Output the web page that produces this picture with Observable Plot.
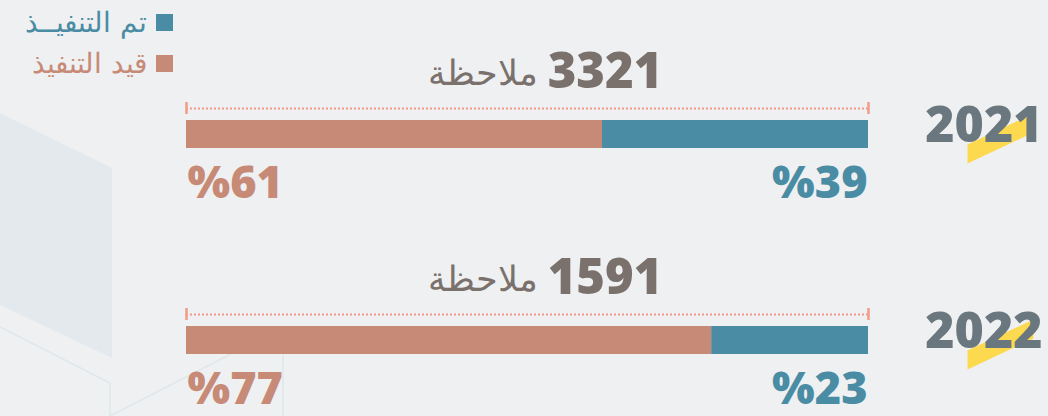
<!DOCTYPE html>
<html>
<head>
<meta charset="utf-8">
<script src="https://cdn.jsdelivr.net/npm/d3@7"></script>
<script src="https://cdn.jsdelivr.net/npm/@observablehq/plot@0.6"></script>
<style>
  html, body { margin: 0; padding: 0; background: #eef0f2; }
  #wrap { position: relative; width: 1048px; height: 416px; overflow: hidden; background: #eef0f2; }
  #deco, #chart { position: absolute; left: 0; top: 0; }
  #legend { position: absolute; right: calc(1048px - 173px); top: 2px; font-family: "DejaVu Sans", sans-serif; font-size: 28px; font-weight: 300; }
  .item { display: flex; align-items: center; justify-content: flex-end; height: 41px; }
  .sw { width: 17px; height: 17px; margin-left: 9px; display: inline-block; }
</style>
</head>
<body>
<div id="wrap">
  <svg id="deco" width="1048" height="416">
    <polygon points="0,113 112,168 112,358 0,305" fill="#e4e9ee"/>
    <polyline points="0,327 110,383 110,416" fill="none" stroke="#e0e7ea" stroke-width="1.5"/>
    <polyline points="110,416 233,353 283,353 283,416" fill="none" stroke="#e0e7ea" stroke-width="1.5"/>
  </svg>
  <div id="chart"></div>
  <div id="legend"></div>
</div>
<script>
const years = ["2021", "2022"];
const totals = [3321, 1591];
const statuses = ["تم التنفيذ", "قيد التنفيذ"];
const legendLabels = ["تم التنفيــذ", "قيد التنفيذ"];
const donePct = [39, 23];
const pendingPct = [61, 77];
const noteWord = "ملاحظة";
const colors = ["#4a8ca4", "#c78a77"];

const rows = [];
years.forEach((y, i) => {
  rows.push({year: y, status: statuses[0], value: donePct[i]});
  rows.push({year: y, status: statuses[1], value: pendingPct[i]});
});
const yearRows = years.map((y, i) => ({year: y, total: totals[i], done: donePct[i], pending: pendingPct[i]}));

const parallelogram = {
  draw(ctx) {
    ctx.moveTo(-33, 6);
    ctx.lineTo(33, -25);
    ctx.lineTo(33, -6);
    ctx.lineTo(-33, 25);
    ctx.closePath();
  }
};

const numFont = "'Open Sans', sans-serif";
const arFont = "'DejaVu Sans', sans-serif";

const plot = Plot.plot({
  width: 1048,
  height: 416,
  marginLeft: 186,
  marginRight: 180,
  marginTop: 0,
  marginBottom: 0,
  style: {background: "transparent", overflow: "visible"},
  x: {domain: [0, 100], range: [868, 186], axis: null},
  y: {type: "band", domain: years, range: [31, 443], padding: 0, axis: null},
  color: {domain: statuses, range: colors},
  marks: [
    Plot.barX(rows, Plot.stackX({x: "value", y: "year", fill: "status", insetTop: 89, insetBottom: 89})),
    Plot.ruleY(yearRows, {y: "year", x1: 0, x2: 100, dy: -26, stroke: "#f39a87", strokeWidth: 2, strokeDasharray: "2,2"}),
    Plot.tickX(yearRows, {x: 0, y: "year", insetTop: 72, insetBottom: 122, dy: -1, stroke: "#f59a88", strokeWidth: 2.5}),
    Plot.tickX(yearRows, {x: 100, y: "year", insetTop: 72, insetBottom: 122, dy: -1, stroke: "#f59a88", strokeWidth: 2.5}),
    Plot.text(yearRows, {x: 50, y: "year", text: d => String(d.total), textAnchor: "end", dx: 135, dy: -62, lineAnchor: "middle", fontFamily: numFont, fontWeight: 800, fontSize: 49, fill: "#7b716c"}),
    Plot.text(yearRows, {x: 50, y: "year", text: () => noteWord, textAnchor: "end", dx: 10, dy: -61, lineAnchor: "middle", fontFamily: arFont, fontWeight: 300, fontSize: 35, fill: "#7b716c"}),
    Plot.text(yearRows, {x: 100, y: "year", text: d => "%" + d.pending, textAnchor: "start", dx: 1, dy: 49, lineAnchor: "middle", fontFamily: numFont, fontWeight: 800, fontSize: 45, fill: colors[1]}),
    Plot.text(yearRows, {x: 0, y: "year", text: d => "%" + d.done, textAnchor: "end", dx: -1, dy: 49, lineAnchor: "middle", fontFamily: numFont, fontWeight: 800, fontSize: 45, fill: colors[0]}),
    Plot.dot(yearRows, {y: "year", frameAnchor: "right", dx: 132, dy: 4, symbol: parallelogram, r: 10, fill: "#fdd94f", stroke: null}),
    Plot.text(yearRows, {y: "year", text: "year", frameAnchor: "right", textAnchor: "end", dx: 174, dy: -9, lineAnchor: "middle", fontFamily: numFont, fontWeight: 800, fontSize: 50, fill: "#6a777e"})
  ]
});
document.getElementById("chart").appendChild(plot);

const legend = document.getElementById("legend");
statuses.forEach((s, i) => {
  const item = document.createElement("div");
  item.className = "item";
  const label = document.createElement("span");
  label.textContent = legendLabels[i];
  label.style.color = colors[i];
  const sw = document.createElement("span");
  sw.className = "sw";
  sw.style.background = colors[i];
  item.appendChild(label);
  item.appendChild(sw);
  legend.appendChild(item);
});
</script>
</body>
</html>
